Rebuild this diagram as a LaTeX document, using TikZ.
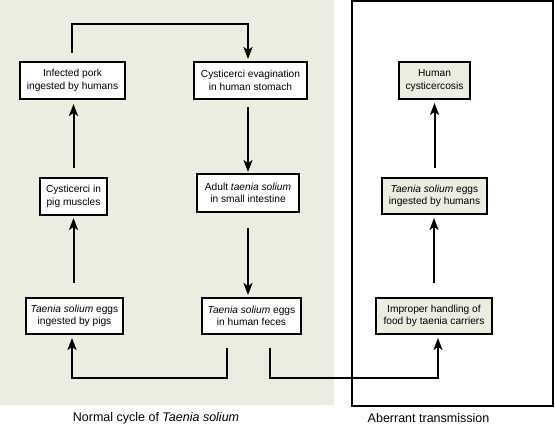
\documentclass[tikz,border=0pt]{standalone}
\usepackage{fontspec}
\setmainfont{Liberation Sans}
\usetikzlibrary{arrows.meta}
\definecolor{beige}{RGB}{237,236,225}
\begin{document}
\begin{tikzpicture}[x=1pt,y=-1pt,
  box/.style={draw=black,line width=2pt,fill=white,inner sep=0pt,align=center,font=\fontsize{10.2}{12.6}\selectfont},
  rbox/.style={box,fill=beige},
  arr/.style={line width=2pt,-{Stealth[length=12pt,width=9pt,inset=3pt]}},
  captxt/.style={font=\fontsize{12.5}{14}\selectfont}]
\useasboundingbox (0,0) rectangle (555,427);
\fill[beige] (0,0) rectangle (334,405);
\draw[line width=2pt] (352,1) rectangle (553,406);
% nodes
\node[box,minimum width=105pt,minimum height=37pt] (pork) at (72.5,80.5) {Infected pork\\ingested by humans};
\node[box,minimum width=113pt,minimum height=37pt] (evag) at (250.5,80.5) {Cysticerci evagination\\in human stomach};
\node[rbox,minimum width=71pt,minimum height=37pt] (hc) at (434.5,80.5) {Human\\cysticercosis};
\node[box,minimum width=67pt,minimum height=37pt] (musc) at (73.5,196.5) {Cysticerci in\\pig muscles};
\node[box,minimum width=102pt,minimum height=38pt] (adult) at (248,193) {Adult \textit{taenia solium}\\in small intestine};
\node[rbox,minimum width=105pt,minimum height=36pt] (ehum) at (434.5,196) {\textit{Taenia solium} eggs\\ingested by humans};
\node[box,minimum width=97pt,minimum height=36pt] (epig) at (74.5,316) {\textit{Taenia solium} eggs\\ingested by pigs};
\node[box,minimum width=99pt,minimum height=36pt] (efec) at (251.5,316) {\textit{Taenia solium} eggs\\in human feces};
\node[rbox,minimum width=116pt,minimum height=36pt] (impr) at (434,316) {Improper handling of\\food by taenia carriers};
\node[captxt] (c1) at (156,418) {Normal cycle of \textit{Taenia solium}};
\node[captxt] (c2) at (428.5,418) {Aberrant transmission};
% connectors
\draw[arr] ([xshift=-0.5pt,yshift=8pt]pork.north) -- ++(0,-29) -| ([xshift=-2.5pt,yshift=2pt]evag.north);
\draw[arr] ([yshift=-7pt]adult.north |- evag.south) -- ([yshift=1pt]adult.north);
\draw[arr] ([yshift=-15pt]adult.south) -- ([yshift=2pt]adult.south |- efec.north);
\draw[arr] ([yshift=14pt]musc.south |- epig.north) -- ([yshift=-2pt]musc.south);
\draw[arr] ([yshift=9pt]musc.north) -- ([yshift=-4pt]musc.north |- pork.south);
\draw[arr] ([xshift=-24.5pt,yshift=-13pt]efec.south) -- ++(0,30) -| ([xshift=-2.5pt,yshift=-3pt]epig.south);
\draw[arr] ([xshift=18.5pt,yshift=-13pt]efec.south) -- ++(0,30) -| ([xshift=4pt,yshift=-3pt]impr.south);
\draw[arr] ([yshift=14pt]impr.north) -- ([yshift=-3pt]impr.north |- ehum.south);
\draw[arr] ([yshift=9pt]ehum.north) -- ([yshift=-3pt]ehum.north |- hc.south);
\end{tikzpicture}
\end{document}
